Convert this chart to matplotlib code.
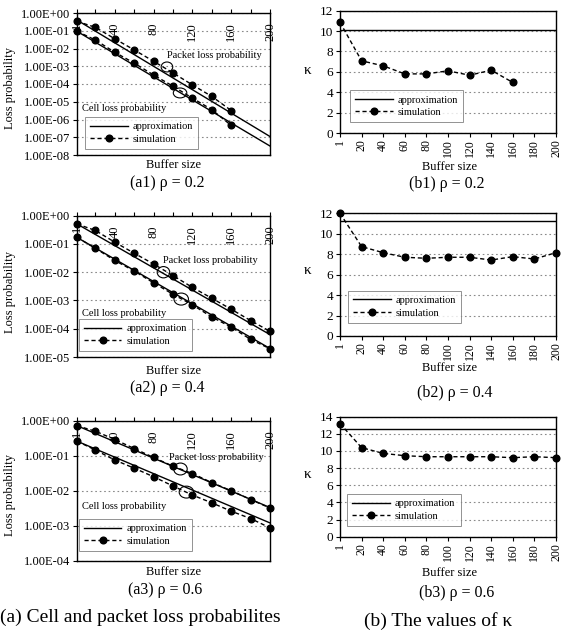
import math
import matplotlib
matplotlib.use('Agg')
import matplotlib.pyplot as plt
from matplotlib.lines import Line2D
from matplotlib.patches import Ellipse
from matplotlib.ticker import FixedLocator, NullLocator, FuncFormatter

plt.rcParams['font.family'] = ['Liberation Serif', 'DejaVu Serif']

# ---------------- data ----------------
a_x_sim_short = [1, 20, 40, 60, 80, 100, 120, 140, 160]
a_x_sim = [1, 20, 40, 60, 80, 100, 120, 140, 160, 180, 200]
a_x_approx = [1, 200]
a_top_ticks = [1, 40, 80, 120, 160, 200]
a_minor_ticks = [20, 60, 100, 140, 180]

a1_packet_sim = [0.34, 0.156, 0.035, 8.3e-3, 1.9e-3, 4.2e-4, 8.9e-5, 2.0e-5, 3.2e-6]
a1_cell_sim = [0.093, 0.030, 6.1e-3, 1.5e-3, 3.2e-4, 7.5e-5, 1.6e-5, 3.6e-6, 4.6e-7]
a1_packet_approx = [0.40, 1.1e-7]
a1_cell_approx = [0.093, 3.2e-8]
a1_decades = [0, -1, -2, -3, -4, -5, -6, -7, -8]

a2_packet_sim = [0.51, 0.30, 0.115, 0.047, 0.0195, 7.6e-3, 2.9e-3, 1.2e-3, 4.9e-4, 1.95e-4, 8.1e-5]
a2_cell_sim = [0.17, 0.070, 0.026, 0.011, 4.2e-3, 1.66e-3, 7.0e-4, 2.6e-4, 1.14e-4, 4.2e-5, 1.96e-5]
a2_packet_approx = [0.51, 6.2e-5]
a2_cell_approx = [0.17, 2.0e-5]
a2_decades = [0, -1, -2, -3, -4, -5]

a3_packet_sim = [0.72, 0.50, 0.29, 0.16, 0.089, 0.050, 0.031, 0.017, 0.010, 5.6e-3, 3.2e-3]
a3_cell_sim = [0.26, 0.145, 0.075, 0.044, 0.025, 0.0136, 7.5e-3, 4.5e-3, 2.6e-3, 1.6e-3, 8.7e-4]
a3_packet_approx = [0.72, 3.3e-3]
a3_cell_approx = [0.26, 1.2e-3]
a3_decades = [0, -1, -2, -3, -4]

b_categories = ['1', '20', '40', '60', '80', '100', '120', '140', '160', '180', '200']
b1_sim = [10.86, 7.08, 6.59, 5.80, 5.80, 6.10, 5.67, 6.16, 4.96]
b1_approx = 10.1
b2_sim = [12.0, 8.74, 8.15, 7.70, 7.60, 7.70, 7.70, 7.43, 7.76, 7.53, 8.15]
b2_approx = 11.28
b3_sim = [13.2, 10.39, 9.72, 9.45, 9.33, 9.33, 9.33, 9.33, 9.22, 9.33, 9.22]
b3_approx = 12.56

# ---------------- layout helpers ----------------
W, H = 568, 637
fig = plt.figure(figsize=(W / 100, H / 100), dpi=100)


def rect(l, t, r, b):
    return [l / W, 1 - b / H, (r - l) / W, (b - t) / H]


def ftext(x, y, s, **kw):
    fig.text(x / W, 1 - y / H, s, ha='center', va='center', **kw)


GRID = dict(color='#8a8a8a', linestyle=(0, (1.5, 2.5)), linewidth=0.8)
SIM = dict(color='black', linestyle=(0, (3, 2)), linewidth=1.0, marker='o',
           markersize=4.8, markerfacecolor='black', markeredgecolor='black')
APX = dict(color='black', linestyle='-', linewidth=1.0)


def sci(v, pos):
    e = int(round(math.log10(v)))
    return '1.00E%s%02d' % ('+' if e >= 0 else '-', abs(e))


def legend(ax, x, y):
    h = [Line2D([], [], **APX), Line2D([], [], **SIM)]
    lg = ax.legend(h, ['approximation', 'simulation'], loc='upper left',
                   bbox_to_anchor=(x, y), fontsize=7.5, frameon=True,
                   fancybox=False, handlelength=3.6, handletextpad=0.5,
                   borderpad=0.5, labelspacing=0.3, borderaxespad=0)
    lg.get_frame().set_edgecolor('#777777')
    lg.get_frame().set_linewidth(0.7)


def panel_a(box, psim, csim, papx, capx, xs, decades, pk_txt, cl_txt, lg_pos,
            loops):
    ax = fig.add_axes(rect(*box))
    ax.set_yscale('log')
    ax.set_xlim(1, 200)
    ax.set_ylim(10.0 ** min(decades), 10.0 ** max(decades))
    ax.plot(a_x_approx, papx, **APX)
    ax.plot(a_x_approx, capx, **APX)
    ax.plot(xs, psim, clip_on=False, zorder=5, **SIM)
    ax.plot(xs, csim, clip_on=False, zorder=5, **SIM)
    ax.yaxis.set_major_locator(FixedLocator([10.0 ** d for d in decades]))
    ax.yaxis.set_major_formatter(FuncFormatter(sci))
    ax.yaxis.set_minor_locator(NullLocator())
    ax.grid(True, axis='y', **GRID)
    ax.tick_params(axis='y', labelsize=9, length=3, width=0.8, direction='out',
                   pad=2)
    ax.xaxis.set_ticks_position('top')
    ax.xaxis.set_major_locator(FixedLocator(a_top_ticks))
    ax.xaxis.set_minor_locator(FixedLocator(a_minor_ticks))
    ax.tick_params(axis='x', which='both', labeltop=False, labelbottom=False,
                   length=3, width=0.8, direction='out')
    for t in a_top_ticks:
        ax.annotate(str(t), xy=(t, 1), xycoords=ax.get_xaxis_transform(),
                    xytext=(0, -7), textcoords='offset points', rotation=90,
                    ha='center', va='top', fontsize=9)
    for s in ax.spines.values():
        s.set_linewidth(1.0)
    ax.text(pk_txt[0], pk_txt[1], 'Packet loss probability', transform=ax.transAxes,
            ha='center', va='center', fontsize=7.5)
    ax.text(cl_txt[0], cl_txt[1], 'Cell loss probability', transform=ax.transAxes,
            ha='left', va='center', fontsize=7.5)
    legend(ax, *lg_pos)
    for (cx, cy, w, h) in loops:
        ax.add_patch(Ellipse((cx, cy), w, h, transform=ax.transAxes, fill=False,
                             lw=0.8, color='black', zorder=6))
    return ax


def panel_b(box, sim, apx, ytop, lg_pos):
    ax = fig.add_axes(rect(*box))
    pos = list(range(len(b_categories)))
    ax.set_xlim(0, len(b_categories) - 1)
    ax.set_ylim(0, ytop)
    ax.axhline(apx, **APX)
    ax.plot(pos[:len(sim)], sim, clip_on=False, zorder=5, **SIM)
    ax.set_yticks(range(0, ytop + 1, 2))
    ax.set_xticks(pos)
    ax.set_xticklabels(b_categories, rotation=90)
    ax.grid(True, axis='y', **GRID)
    ax.tick_params(axis='y', labelsize=9.5, length=3, width=0.8, direction='out',
                   pad=2)
    ax.tick_params(axis='x', labelsize=8.5, length=3, width=0.8, direction='out',
                   pad=1.5)
    for s in ax.spines.values():
        s.set_linewidth(1.0)
    legend(ax, *lg_pos)
    return ax


# ---------------- (a) panels ----------------
panel_a((77, 13, 270, 155), a1_packet_sim, a1_cell_sim, a1_packet_approx,
        a1_cell_approx, a_x_sim_short, a1_decades, (0.71, 0.70), (0.026, 0.33),
        (0.041, 0.27), [(0.466, 0.62, 0.06, 0.07), (0.534, 0.437, 0.07, 0.07)])
panel_a((77, 215.7, 270, 357), a2_packet_sim, a2_cell_sim, a2_packet_approx,
        a2_cell_approx, a_x_sim, a2_decades, (0.693, 0.686), (0.026, 0.31),
        (0.008, 0.27), [(0.448, 0.60, 0.065, 0.08), (0.54, 0.41, 0.075, 0.085)])
panel_a((77, 420.7, 270, 560.7), a3_packet_sim, a3_cell_sim, a3_packet_approx,
        a3_cell_approx, a_x_sim, a3_decades, (0.72, 0.74), (0.026, 0.386),
        (0.008, 0.30), [(0.536, 0.655, 0.07, 0.085), (0.567, 0.49, 0.075, 0.085)])

# ---------------- (b) panels ----------------
panel_b((340, 10.7, 556, 133), b1_sim, b1_approx, 12, (0.046, 0.35))
panel_b((340, 213.3, 556, 336), b2_sim, b2_approx, 12, (0.037, 0.37))
panel_b((340, 416.7, 556, 536.7), b3_sim, b3_approx, 14, (0.033, 0.356))

# ---------------- texts ----------------
for y in (88, 292, 495):
    ftext(10, y, 'Loss probability', rotation=90, fontsize=9)
for y in (71, 271, 474):
    ftext(308, y, 'κ', fontsize=11)
for y in (165, 370.7, 571.7):
    ftext(174, y, 'Buffer size', fontsize=9)
for y in (167, 368, 573):
    ftext(449, y, 'Buffer size', fontsize=9)
ftext(167, 183, '(a1) ρ = 0.2', fontsize=11.5)
ftext(167, 388, '(a2) ρ = 0.4', fontsize=11.5)
ftext(165, 590, '(a3) ρ = 0.6', fontsize=11.5)
ftext(447, 184, '(b1) ρ = 0.2', fontsize=11.5)
ftext(455, 393, '(b2) ρ = 0.4', fontsize=11.5)
ftext(457, 593, '(b3) ρ = 0.6', fontsize=11.5)
ftext(140, 617, '(a) Cell and packet loss probabilites', fontsize=14)
ftext(438, 621, '(b) The values of κ', fontsize=14)

fig.savefig('out.png', dpi=100)
